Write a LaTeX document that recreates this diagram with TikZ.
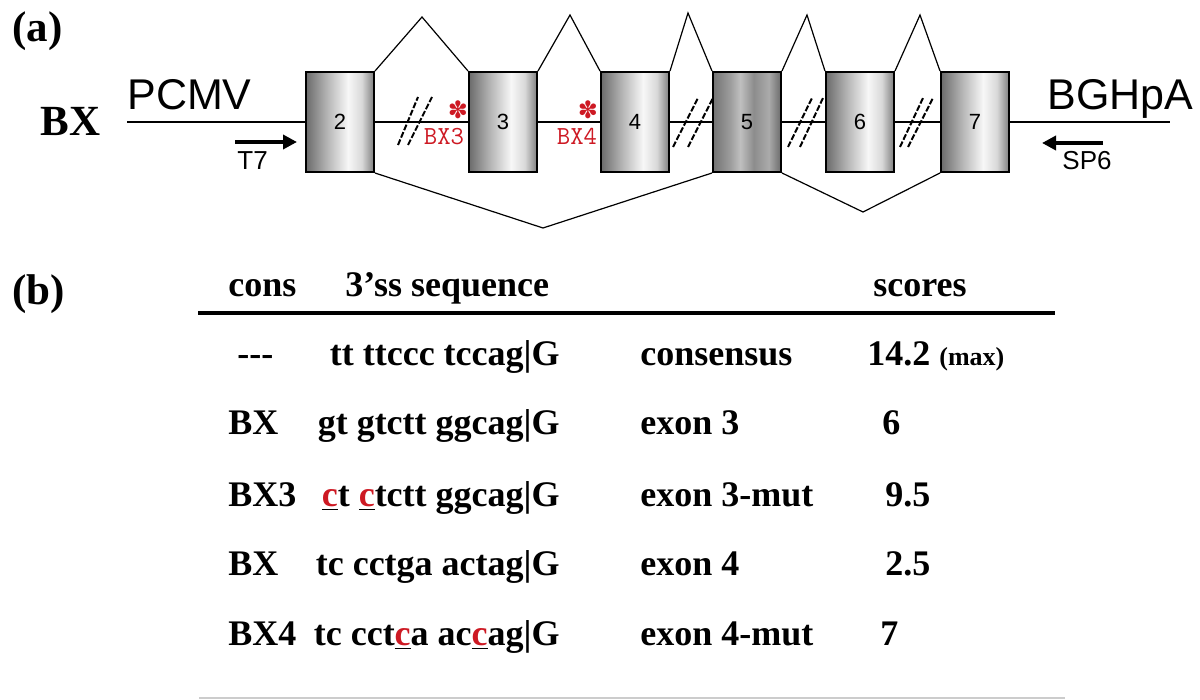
\documentclass[tikz,border=0pt]{standalone}
\usepackage{fontspec}
\setmainfont{Liberation Serif}
\newfontfamily\arialfont{Liberation Sans}
\newfontfamily\dingfont{DejaVu Sans}
\usepackage{tikz}
\usetikzlibrary{positioning,arrows.meta,calc}

\definecolor{mutred}{RGB}{205,25,35}
\newcommand{\mutc}{\underline{\textcolor{mutred}{c}}}

\pgfdeclarehorizontalshading{exonshade}{100bp}{
  color(0bp)=(black!58); color(25bp)=(black!58); color(40bp)=(black!30);
  color(56bp)=(black!3); color(66bp)=(black!15); color(75bp)=(black!50);
  color(100bp)=(black!50)}
\pgfdeclarehorizontalshading{darkshade}{100bp}{
  color(0bp)=(black!55); color(25bp)=(black!55); color(38bp)=(black!38);
  color(45bp)=(black!25); color(55bp)=(black!45); color(66bp)=(black!33);
  color(75bp)=(black!58); color(100bp)=(black!58)}

\tikzset{
  exon/.style={draw, line width=1pt, minimum width=34pt, minimum height=50pt,
    inner sep=0pt, shading=exonshade,
    font=\arialfont\fontsize{11}{11}\selectfont},
  darkexon/.style={exon, shading=darkshade},
  gene/.style={line width=1pt},
  splice/.style={line width=0.6pt},
  cut/.style={line width=1pt, dash pattern=on 3pt off 1pt},
  primer/.style={line width=2pt, -{Triangle[length=7pt,width=7pt]}},
  panel/.style={inner sep=0pt, anchor=base west, font=\fontsize{21.5}{22}\selectfont\bfseries},
  vector/.style={inner sep=0pt, anchor=base west, font=\arialfont\fontsize{21.5}{22}\selectfont},
  primerlab/.style={inner sep=0pt, anchor=base west, font=\arialfont\fontsize{13}{13}\selectfont},
  mutlab/.style={inner sep=0pt, anchor=base, text=mutred, font=\ttfamily\fontsize{13}{13}\selectfont},
  mutstar/.style={inner sep=0pt, text=mutred, font=\dingfont\fontsize{12}{12}\selectfont},
  cell/.style={inner sep=0pt, anchor=base west, font=\fontsize{18}{20}\selectfont\bfseries},
  seqcell/.style={cell, anchor=base east},
}

\begin{document}
\begin{tikzpicture}[x=0.5pt, y=-0.5pt]

  \useasboundingbox (0,0) rectangle (1200,700);

  % (a) gene construct
  \node[panel] (pa) at (12,42) {(a)};
  \node[panel] (bx) at (40,136) {BX};
  \node[vector] (pcmv) at (127,110) {PCMV};
  \node[vector] (bgh) at (1047,110) {BGHpA};

  \coordinate (gl) at (127,122);
  \coordinate (gr) at (1170,122);

  \node[exon] (e2) at (340,122) {2};
  \node[exon] (e3) at (503,122) {3};
  \node[exon] (e4) at (635,122) {4};
  \node[darkexon] (e5) at (747,122) {5};
  \node[exon] (e6) at (860,122) {6};
  \node[exon] (e7) at (975,122) {7};

  \path[gene] (gl) edge (e2);
  \path[gene] (e2) edge (e3);
  \path[gene] (e3) edge (e4);
  \path[gene] (e4) edge (e5);
  \path[gene] (e5) edge (e6);
  \path[gene] (e6) edge (e7);
  \path[gene] (e7) edge (gr);

  % splicing
  \coordinate (p23) at (422,17);
  \coordinate (p34) at (570,15);
  \coordinate (p45) at (688,13);
  \coordinate (p56) at (807,15);
  \coordinate (p67) at (920,15);
  \coordinate (v25) at (543,228);
  \coordinate (v57) at (863,212);

  \draw[splice] (e2.north east) -- (p23) -- (e3.north west);
  \draw[splice] (e3.north east) -- (p34) -- (e4.north west);
  \draw[splice] (e4.north east) -- (p45) -- (e5.north west);
  \draw[splice] (e5.north east) -- (p56) -- (e6.north west);
  \draw[splice] (e6.north east) -- (p67) -- (e7.north west);
  \draw[splice] (e2.south east) -- (v25) -- (e5.south west);
  \draw[splice] (e5.south east) -- (v57) -- (e7.south west);

  % intron cuts
  \draw[cut] (398,145) -- (418,97);
  \draw[cut] (408,145) -- (432,97);
  \draw[cut] (673,147) -- (698,98);
  \draw[cut] (688,147) -- (713,98);
  \draw[cut] (788,147) -- (812,98);
  \draw[cut] (800,147) -- (823,98);
  \draw[cut] (900,147) -- (923,98);
  \draw[cut] (908,147) -- (933,98);

  % mutations
  \node[mutstar] (s3) at (458,110) {✽};
  \node[mutstar] (s4) at (588,110) {✽};
  \node[mutlab] (m3) at (444,145) {BX3};
  \node[mutlab] (m4) at (577,145) {BX4};

  % primers
  \coordinate (t7a) at (235,142);
  \coordinate (t7b) at (297,142);
  \coordinate (sp6a) at (1103,143);
  \coordinate (sp6b) at (1042,143);
  \draw[primer] (t7a) -- (t7b);
  \draw[primer] (sp6a) -- (sp6b);
  \node[primerlab] (t7) at (237,170) {T7};
  \node[primerlab] (sp6) at (1062,170) {SP6};

  % (b) splice site table
  \node[panel] (pb) at (12,305) {(b)};

  \node[cell] (hcons) at (228,297) {cons};
  \node[cell] (hseq) at (345,297) {3’ss sequence};
  \node[cell] (hscore) at (873,297) {scores};
  \draw[line width=2pt] (198,313) -- (1055,313);

  \node[cell] (c1) at (237,365) {-{}-{}-};
  \node[seqcell] (q1) at (560,365) {tt ttccc tccag|G};
  \node[cell] (n1) at (640,365) {consensus};
  \node[cell] (r1) at (867,365) {14.2 {\fontsize{13}{13}\selectfont(max)}};

  \node[cell] (c2) at (228,435) {BX};
  \node[seqcell] (q2) at (560,435) {gt gtctt ggcag|G};
  \node[cell] (n2) at (640,435) {exon 3};
  \node[cell] (r2) at (882,435) {6};

  \node[cell] (c3) at (228,506) {BX3};
  \node[seqcell] (q3) at (560,506) {\mutc t \mutc tctt ggcag|G};
  \node[cell] (n3) at (640,506) {exon 3-mut};
  \node[cell] (r3) at (885,506) {9.5};

  \node[cell] (c4) at (228,575) {BX};
  \node[seqcell] (q4) at (560,575) {tc cctga actag|G};
  \node[cell] (n4) at (640,575) {exon 4};
  \node[cell] (r4) at (885,575) {2.5};

  \node[cell] (c5) at (228,645) {BX4};
  \node[seqcell] (q5) at (560,645) {tc cct\mutc a ac\mutc ag|G};
  \node[cell] (n5) at (640,645) {exon 4-mut};
  \node[cell] (r5) at (880,645) {7};

  \draw[gray!40, line width=0.6pt] (199,698) -- (1065,698);

\end{tikzpicture}
\end{document}
